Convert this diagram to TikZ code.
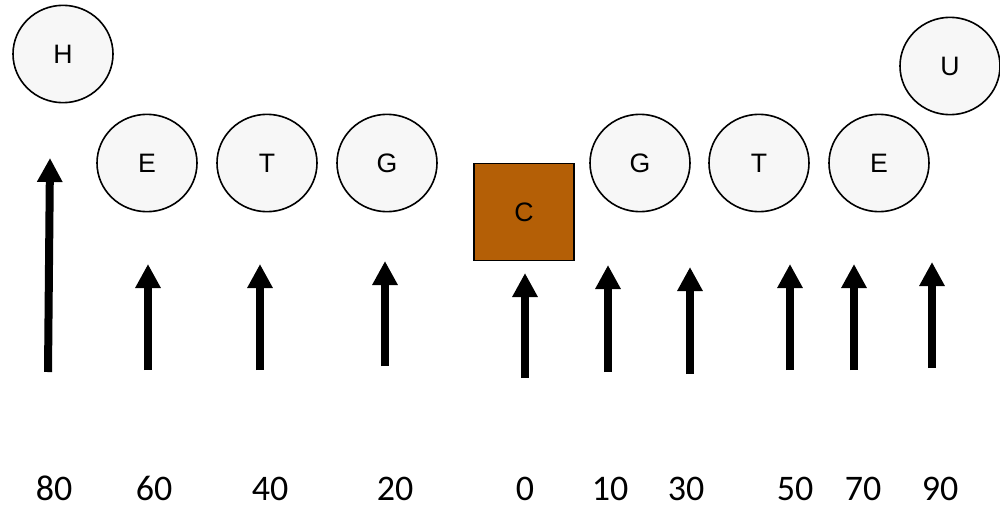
\documentclass[tikz,border=0pt]{standalone}
\usepackage{fontspec}
\setmainfont{Liberation Sans}
\newfontfamily\numfont{Carlito}
\usetikzlibrary{shapes.geometric,arrows.meta}
\definecolor{boxfill}{HTML}{B45F06}
\definecolor{circfill}{HTML}{F7F7F7}
\tikzset{
  circnode/.style={ellipse, draw=black, line width=1.2pt, fill=circfill, minimum width=75pt, minimum height=73pt, inner sep=0pt, font=\fontsize{20}{22}\selectfont},
  boxnode/.style={rectangle, draw=black, line width=1.2pt, fill=boxfill, minimum width=75pt, minimum height=73pt, inner sep=0pt, font=\fontsize{20}{22}\selectfont},
  uparrow/.style={line width=6pt, -{Triangle[width=18pt,length=18pt]}},
  numlabel/.style={font=\numfont\fontsize{27}{29}\selectfont, inner sep=0pt, anchor=base}
}
\begin{document}
\begin{tikzpicture}[x=0.75pt,y=-0.75pt]
\useasboundingbox (0,0) rectangle (1000,507);
% circles
\node[circnode] (H) at (63,54) {H};
\node[circnode] (E1) at (147,163) {E};
\node[circnode] (T1) at (267,163) {T};
\node[circnode] (G1) at (387,163) {G};
\node[boxnode] (C) at (524,212) {C};
\node[circnode] (G2) at (640,163) {G};
\node[circnode] (T2) at (759,163) {T};
\node[circnode] (E2) at (879,163) {E};
\node[circnode] (U) at (950,66) {U};
% arrow endpoints
\coordinate (a1s) at (48,372);  \coordinate (a1e) at (50,158);
\coordinate (a2s) at (148,370); \coordinate (a2e) at (148,264);
\coordinate (a3s) at (260,370); \coordinate (a3e) at (260,264);
\coordinate (a4s) at (385,366); \coordinate (a4e) at (385,261);
\coordinate (a5s) at (525,378); \coordinate (a5e) at (525,273);
\coordinate (a6s) at (608,372); \coordinate (a6e) at (608,265);
\coordinate (a7s) at (690,374); \coordinate (a7e) at (690,267);
\coordinate (a8s) at (790,370); \coordinate (a8e) at (790,264);
\coordinate (a9s) at (854,370); \coordinate (a9e) at (854,264);
\coordinate (a10s) at (932,368); \coordinate (a10e) at (932,262);
\foreach \i in {1,...,10}{
  \draw[uparrow] (a\i s) -- (a\i e);
}
% labels
\node[numlabel] (n80) at (54,500) {80};
\node[numlabel] (n60) at (154,500) {60};
\node[numlabel] (n40) at (270,500) {40};
\node[numlabel] (n20) at (395,500) {20};
\node[numlabel] (n0) at (525,500) {0};
\node[numlabel] (n10) at (610,500) {10};
\node[numlabel] (n30) at (686,500) {30};
\node[numlabel] (n50) at (795,500) {50};
\node[numlabel] (n70) at (863,500) {70};
\node[numlabel] (n90) at (940,500) {90};
\end{tikzpicture}
\end{document}
